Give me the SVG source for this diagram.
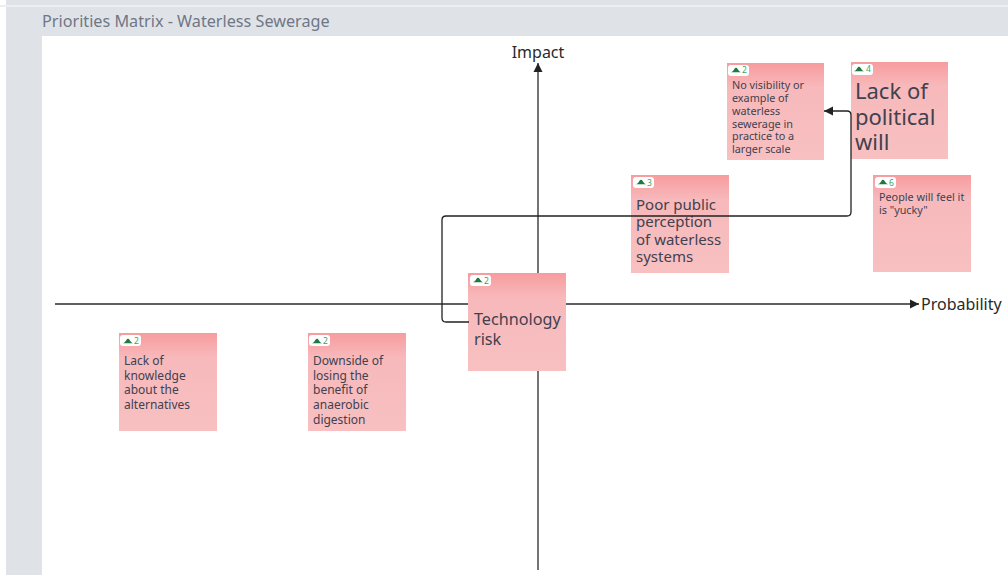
<svg xmlns="http://www.w3.org/2000/svg" width="1008" height="575" viewBox="0 0 1008 575">
<style>
text{font-family:"Noto Sans","Open Sans",sans-serif;fill:#41414f}
.ax{stroke:#2a2a2a;stroke-width:1.3;fill:none}
.card{fill:url(#g)}
.badge{fill:#fff}
.n{font-size:8.5px;fill:#3aa364}
.up{fill:#1f7a3f}
.s{font-size:10.8px}
.t{font-size:12px}
.m{font-size:15px}
.lab{font-size:16px;fill:#2a2a2a}
</style>
<defs>
<linearGradient id="g" x1="0" y1="0" x2="0" y2="1"><stop offset="0" stop-color="#f79c9e"/><stop offset=".25" stop-color="#f7b9bb"/><stop offset="1" stop-color="#f8c0c1"/></linearGradient>
<marker id="a" markerWidth="10" markerHeight="10" refX="9" refY="5" orient="auto" markerUnits="userSpaceOnUse"><path d="M0 .5L9 5L0 9.5Z" fill="#222"/></marker>
<path id="tri" d="M-5 2.2Q-3 1.6 -1.8 -.8Q-1 -2.2 0 -2.2Q1 -2.2 1.8 -.8Q3 1.6 5 2.2Z"/>
</defs>
<rect width="1008" height="575" fill="#fff"/>
<rect x="6" y="0" width="1002" height="575" fill="#dfe3e8"/>
<rect x="0" y="5" width="1008" height="2" fill="#eceef1"/>
<rect x="42" y="36" width="966" height="539" fill="#fff"/>
<text x="42" y="27" style="font-size:16.2px;fill:#6f7785">Priorities Matrix - Waterless Sewerage</text>
<g id="axes">
<path class="ax" d="M55 304H919" marker-end="url(#a)"/>
<path class="ax" d="M538 570V63" marker-end="url(#a)"/>
</g>
<g id="axis-y"><text class="lab" x="538" y="58" text-anchor="middle">Impact</text></g>
<g id="axis-x"><text class="lab" x="921" y="310">Probability</text></g>
<g id="n1"><rect class="card" x="727" y="63" width="97" height="97"/><rect class="badge" x="728" y="65" width="21" height="11" rx="3"/><use href="#tri" class="up" x="736" y="70"/><text class="n" x="742" y="73">2</text>
<text class="s"><tspan x="732" y="89">No visibility or</tspan><tspan x="732" y="102">example of</tspan><tspan x="732" y="115">waterless</tspan><tspan x="732" y="128">sewerage in</tspan><tspan x="732" y="140">practice to a</tspan><tspan x="732" y="153">larger scale</tspan></text></g>
<g id="n2"><rect class="card" x="851" y="62" width="97" height="97"/><rect class="badge" x="852" y="64" width="21" height="11" rx="3"/><use href="#tri" class="up" x="859" y="69"/><text class="n" x="866" y="72">4</text>
<text style="font-size:22px"><tspan x="855" y="99">Lack of</tspan><tspan x="855" y="125">political</tspan><tspan x="855" y="150">will</tspan></text></g>
<g id="n3"><rect class="card" x="631" y="175" width="98" height="98"/><rect class="badge" x="633" y="177" width="21" height="11" rx="3"/><use href="#tri" class="up" x="641" y="182"/><text class="n" x="647" y="186">3</text>
<text class="m"><tspan x="636" y="210">Poor public</tspan><tspan x="636" y="227">perception</tspan><tspan x="636" y="245">of waterless</tspan><tspan x="636" y="262">systems</tspan></text></g>
<g id="n4"><rect class="card" x="873" y="175" width="98" height="97"/><rect class="badge" x="875" y="177" width="21" height="11" rx="3"/><use href="#tri" class="up" x="883" y="182"/><text class="n" x="889" y="186">6</text>
<text class="s"><tspan x="879" y="201">People will feel it</tspan><tspan x="879" y="214">is "yucky"</tspan></text></g>
<g id="n5"><rect class="card" x="468" y="273" width="98" height="98"/><rect class="badge" x="470" y="275" width="21" height="11" rx="3"/><use href="#tri" class="up" x="478" y="280"/><text class="n" x="484" y="284">2</text>
<text style="font-size:16.2px"><tspan x="474" y="325">Technology</tspan><tspan x="474" y="345">risk</tspan></text></g>
<g id="n6"><rect class="card" x="119" y="333" width="98" height="98"/><rect class="badge" x="120" y="335" width="21" height="11" rx="3"/><use href="#tri" class="up" x="128" y="341"/><text class="n" x="134" y="344">2</text>
<text class="t"><tspan x="124" y="365">Lack of</tspan><tspan x="124" y="380">knowledge</tspan><tspan x="124" y="394">about the</tspan><tspan x="124" y="409">alternatives</tspan></text></g>
<g id="n7"><rect class="card" x="308" y="333" width="98" height="98"/><rect class="badge" x="309" y="335" width="21" height="11" rx="3"/><use href="#tri" class="up" x="317" y="341"/><text class="n" x="323" y="344">2</text>
<text class="t"><tspan x="313" y="365">Downside of</tspan><tspan x="313" y="380">losing the</tspan><tspan x="313" y="394">benefit of</tspan><tspan x="313" y="409">anaerobic</tspan><tspan x="313" y="424">digestion</tspan></text></g>
<g id="connectors">
<path d="M469 322H446Q442 322 442 318V220Q442 216 446 216H847Q851 216 851 212V115Q851 111 847 111H824" fill="none" stroke="#222" stroke-width="1.3" marker-end="url(#a)"/>
</g>
</svg>
